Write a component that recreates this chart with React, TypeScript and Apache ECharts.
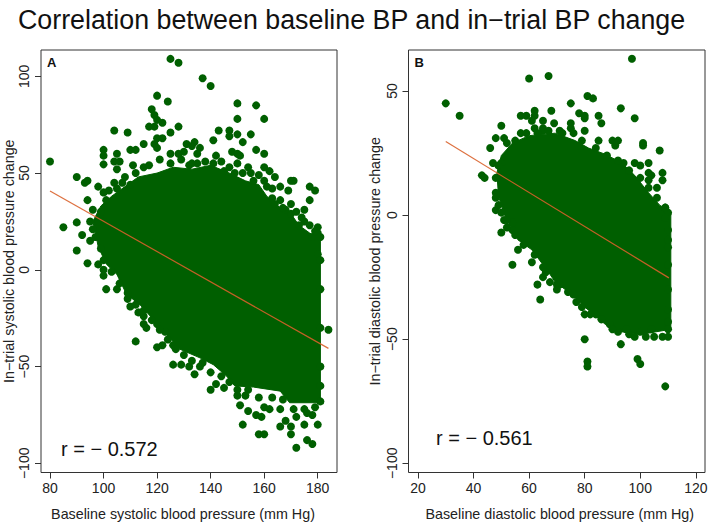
import React, { useEffect, useRef } from "react";
import * as echarts from "echarts";

const titleText = "Correlation between baseline BP and in\u2212trial BP change";
const sysTicksX = [80, 100, 120, 140, 160, 180];
const sysTicksY = [-100, -50, 0, 50, 100];
const diaTicksX = [20, 40, 60, 80, 100, 120];
const diaTicksY = [-100, -50, 0, 50];

// Outline of the solid mass of overlapping dots (individual points there cannot be read).
const sysCore = [[96,25],[99,33],[103,38],[108,43],[113,48],[120,50],[126,53],[133,52],[140,54],[147,50],[153,46],[158,44],[161,38],[165,33],[170,29],[173,23],[177,19],[181,16],[181,-68.7],[169.5,-68.7],[166,-62.7],[156,-60.6],[149,-60],[146,-55],[141,-49],[136,-45.5],[128.5,-41],[123.5,-33.4],[118.6,-25.7],[113.6,-18],[108.6,-12.7],[105,-2.4],[101,3],[98,12],[97,19]];
const diaCore = [[48.4,17],[50,24],[54,29],[60,32],[69.4,33],[76.6,30],[81.4,27],[87.4,24.5],[93.4,21],[98,16],[103,9],[107,4],[111,1],[111,-46],[100.6,-48],[93,-47],[87.4,-44],[80,-37],[75.4,-32],[69.4,-27],[67,-23],[61,-14],[56,-10],[51.4,-0.6],[49,7.5]];

const sysPoints = [[80,56],[125,109],[128,107],[137,99],[140,95],[120,90],[124,87],[118,83],[119,80],[120,77.5],[122,76],[117,74],[119,74],[128,74],[125,71],[104,72],[109,71],[150,86],[157,85],[150,78],[160,78],[143,72],[147,72],[147,69],[150,70],[155,70],[141,67],[152,66],[120,68],[122,68],[115,65],[119,65],[134,66],[133,64],[131,65],[136,63],[157,62],[100,62],[100,59],[100,54.5],[105,60],[110,62],[112,62],[160,60],[148,61],[150,60],[151,59],[142,59],[144,56],[125,60],[128,60],[130,61],[135,60],[120,63],[104,56],[106,56],[105,52],[111,54],[115,53],[135,55],[132,54],[147,53],[150,55],[154,53],[155,50],[160,53],[162,51],[90,48],[93,45],[94,46],[98,43],[100,40],[102,41],[104,45],[107,45],[110,44],[158,49],[160,46],[164,48],[166,43],[163,42],[170,46],[171,46],[169,41],[177,43],[179,41],[177,36],[166,36],[164,34],[170,34],[175,31],[170,29],[168,31],[175,25],[173,23],[177,23],[180,22],[180,19],[178,17],[180,8],[94,36],[96,31],[95,25],[90,24.5],[85,22],[96,21],[92,18],[95,15],[90,10],[94,3.4],[98,2.8],[100,0],[100,-3],[101,-10],[105,-10],[109,-15],[110,-19],[113,-22],[115,-24],[115,-28],[116,-30],[112,-37],[120,-28],[120,-40],[122,-39],[123,-32],[126,-39],[126,-49],[129,-49],[132,-50],[134,-54],[136,-50],[140,-62],[142,-59],[145,-61],[150,-65],[153,-65],[151,-70],[154,-73],[157,-75],[159,-76],[152,-80],[158,-85],[160,-85],[166,-81],[170,-85],[170,-81],[168,-78],[175,-80],[176,-88],[178,-90],[172,-92],[180,-80],[178,-75],[184,-31],[160,-71],[162,-72],[166,-72],[172,-76],[176,-74],
  [101,36],[105,42],[108,48],[112,50],[117,54],[121,57],[125,55],[129,57],[133,55],[138,56],[141,55],[145,51],[149,50],[152,50],[156,46],[161,43],[163,37],[167,32],[172,30],[174,27],[179,20],[181,17],[181,5],[181,-10],[181,-30],[181,-50],[181,-60],[181,-68],[179,-71],[175,-72],[171,-72],[167,-67],[163,-66],[158,-66],[154,-62],[150,-62],[147,-58],[144,-55],[140,-53],[137,-48],[133,-47],[130,-44],[127,-41],[124,-36],[121,-31],[118,-26],[115,-21],[112,-18],[109,-12],[106,-7],[103,-1],[100,5],[99,11],[97,17],[98,25],[99,30]];

const diaPoints = [[97,63],[60,55],[67,56],[30,45],[35,40],[81,48],[83,47],[75,45],[93,43],[98,39],[57,40],[59,40],[62,42],[62,40],[68,42],[78,41],[80,40],[80,39],[85,40],[86,37],[65,38],[61,38],[69,37],[75,37],[75,35],[62,35],[65,35],[65,34],[50,36],[80,34],[71,34],[57,33],[48,31],[51,31],[46,27],[85,30],[90,30],[92,30],[91,28],[101,29],[101,28],[107,26],[47,21],[50,21],[94,21],[98,21],[100,20],[103,21],[103,17],[104,16],[108,17],[108,14],[103,14],[106,11],[43,16],[44,15],[48,9],[48,2],[109,3],[110,1],[109,-1],[50,-7],[51,-2],[54,-3],[54,-6],[52,-5],[110,-6],[110,-10],[110,-13],[56,-14],[54,-20],[61,-19],[65,-21],[65,-25],[63,-28],[64,-34],[67.5,-27],[70,-28],[70,-30],[74,-31],[76,-32],[79,-37],[80,-40],[80,-50],[93,-52],[81,-59],[81,-61],[99,-58],[100,-60],[109,-69],[84,-40],[89,-44],[92,-47],[96,-48],[98,-49],[102,-49],[105,-49],[108,-49],[110,-49],[110,-46],[110,-43],
  [52,29],[55,30],[59,33],[63,33],[67,34],[72,33],[76,33],[79,30],[84,27],[88,24],[92,22],[96,18],[100,15],[103,11],[106,7],[109,3],[48,15],[49,20],[48,7],[49,4],[50,1],[52,-2],[55,-8],[58,-12],[62,-16],[66,-23],[71,-28],[77,-35],[82,-40],[86,-42],[90,-46],[95,-46],[100,-47],[104,-46],[110,-30],[110,-20],[110,-38]];

const sysFit = [[80,40.7],[184,-40.6]];
const diaFit = [[30,29.6],[110.3,-25.3]];

const GREEN = "#005f00";
const INK = "#333333";
const FONT = "Liberation Sans";

const minusFmt = (v: number) => String(v).replace("-", "\u2212");

function coreSeries(core: number[][], idx: number) {
  return {
    type: "custom", xAxisIndex: idx, yAxisIndex: idx, silent: true, z: 1, clip: false,
    data: core,
    encode: { x: 0, y: 1 },
    renderItem: (params: any, api: any) => {
      if (params.dataIndex !== 0) return { type: "group", children: [] };
      return {
        type: "polygon",
        shape: { points: core.map((p) => api.coord(p)) },
        style: { fill: GREEN, stroke: GREEN, lineWidth: 1 },
      };
    },
  };
}

function xAxis(idx: number, min: number, max: number, ticks: number[], name: string, namePadding: number[]) {
  return {
    type: "value", gridIndex: idx, min, max, name, nameLocation: "middle", nameGap: 34, nameMoveOverlap: false,
    nameTextStyle: { fontFamily: FONT, fontSize: 14.3, color: "#222", padding: namePadding },
    splitLine: { show: false },
    axisLine: { show: false, onZero: false },
    axisTick: { show: true, length: 6, customValues: ticks, lineStyle: { color: INK } },
    axisLabel: { show: true, customValues: ticks, fontFamily: FONT, fontSize: 14, color: "#222", margin: 8, showMinLabel: true, showMaxLabel: true, hideOverlap: false },
  };
}

function yAxis(idx: number, min: number, max: number, ticks: number[], name: string, gap: number) {
  return {
    type: "value", gridIndex: idx, min, max, name, nameLocation: "middle", nameGap: gap, nameMoveOverlap: false,
    nameTextStyle: { fontFamily: FONT, fontSize: 14.3, color: "#222" },
    splitLine: { show: false },
    axisLine: { show: false, onZero: false },
    axisTick: { show: true, length: 6, customValues: ticks, lineStyle: { color: INK } },
    axisLabel: { show: true, customValues: ticks, rotate: 90, fontFamily: FONT, fontSize: 14, color: "#222", margin: 17, formatter: minusFmt, hideOverlap: false, verticalAlign: "middle", align: "center" },
  };
}

function note(text: string, x: number, y: number, size: number, weight: string = "normal") {
  return { type: "text", x, y, style: { text, fontFamily: FONT, fontSize: size, fontWeight: weight, fill: "#111", textVerticalAlign: "middle" } };
}

export default function App() {
  const ref = useRef<HTMLDivElement>(null);
  useEffect(() => {
    const chart = echarts.init(ref.current!, undefined, { renderer: "svg" });
    const gridStyle = { show: true, borderColor: INK, borderWidth: 1, backgroundColor: "#fff", containLabel: false, outerBoundsMode: "none" };
    chart.setOption({
      animation: false,
      backgroundColor: "#fff",
      title: { text: titleText, left: 13, top: 1, textStyle: { fontFamily: FONT, fontSize: 26.8, fontWeight: "normal", color: "#111" } },
      grid: [
        { ...gridStyle, left: 41, top: 50, width: 296, height: 422.5 },
        { ...gridStyle, left: 408.5, top: 50, width: 296.5, height: 422.5 },
      ],
      xAxis: [
        xAxis(0, 76.64, 187.2, sysTicksX, "Baseline systolic blood pressure (mm Hg)", [0, 12, 0, 0]),
        xAxis(1, 16.6, 123.3, diaTicksX, "Baseline diastolic blood pressure (mm Hg)", [0, 0, 0, 6]),
      ],
      yAxis: [
        yAxis(0, -104.75, 113.6, sysTicksY, "In\u2212trial systolic blood pressure change", 25.5),
        yAxis(1, -103.7, 66.5, diaTicksY, "In\u2212trial diastolic blood pressure change", 26.5),
      ],
      series: [
        coreSeries(sysCore, 0),
        coreSeries(diaCore, 1),
        { type: "scatter", xAxisIndex: 0, yAxisIndex: 0, data: sysPoints, symbolSize: 8, itemStyle: { color: GREEN, opacity: 1 }, z: 2, silent: true },
        { type: "scatter", xAxisIndex: 1, yAxisIndex: 1, data: diaPoints, symbolSize: 8, itemStyle: { color: GREEN, opacity: 1 }, z: 2, silent: true },
        { type: "line", xAxisIndex: 0, yAxisIndex: 0, data: sysFit, showSymbol: false, lineStyle: { color: "#d9602a", width: 1.2, opacity: 0.9 }, z: 3, silent: true },
        { type: "line", xAxisIndex: 1, yAxisIndex: 1, data: diaFit, showSymbol: false, lineStyle: { color: "#d9602a", width: 1.2, opacity: 0.9 }, z: 3, silent: true },
      ],
      graphic: [
        note("A", 47, 62, 13, "bold"),
        note("B", 414.5, 62, 13, "bold"),
        note("r = \u2212 0.572", 61, 449, 20),
        note("r = \u2212 0.561", 436, 438, 20),
      ],
    });
    return () => chart.dispose();
  }, []);
  return <div ref={ref} style={{ width: 709, height: 522, position: "absolute", left: 0, top: 0 }} />;
}
